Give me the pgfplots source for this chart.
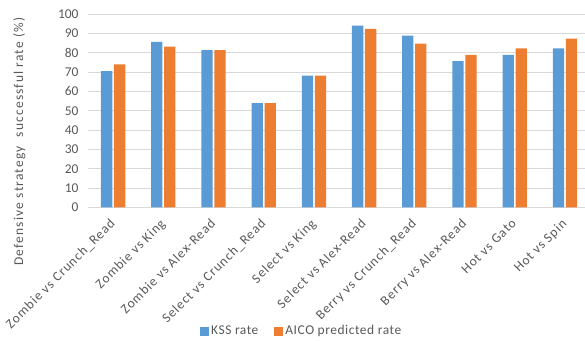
\documentclass[border=0pt]{standalone}
\usepackage{pgfplots}
\pgfplotsset{compat=1.18}
\usepackage{fontspec}
\setmainfont{Carlito}
\newfontfamily\ticklabelfont[LetterSpace=7]{Carlito}
\newfontfamily\ylabelfont[LetterSpace=9]{Carlito}
\newfontfamily\legendfont[LetterSpace=4]{Carlito}
\definecolor{kssblue}{HTML}{5B9BD5}
\definecolor{aicoorange}{HTML}{ED7D31}
\definecolor{gridgray}{HTML}{D9D9D9}
\definecolor{textgray}{HTML}{595959}

\begin{document}
\begin{tikzpicture}
\useasboundingbox (0,0) rectangle (585bp,341bp);
\begin{axis}[
  at={(88bp,133.7bp)}, anchor=south west,
  scale only axis,
  width=497bp, height=193bp,
  ybar=1.7bp, bar width=11.3bp,
  xmin=-0.5, xmax=9.4,
  ymin=0, ymax=100,
  ytick={0,10,...,100},
  xtick=data,
  xticklabels={Zombie vs Crunch\_Read, Zombie vs King, Zombie vs Alex-Read,
    Select vs Crunch\_Read, Select vs King, Select vs Alex-Read,
    Berry vs Crunch\_Read, Berry vs Alex-Read, Hot vs Gato, Hot vs Spin},
  x tick label style={xshift=-4bp, yshift=-9bp, rotate=45, anchor=north east,
    font=\ticklabelfont\fontsize{13.5}{15}\selectfont, text=textgray, inner sep=1bp},
  y tick label style={font=\fontsize{13.5}{15}\selectfont, text=textgray},
  /pgf/number format/assume math mode=true,
  major tick length=0pt,
  axis line style={draw=none},
  ymajorgrids, grid style={gridgray, line width=0.9bp},
  yticklabel style={xshift=-6bp},
  ylabel={Defensive strategy\ \ successful rate (\%)},
  ylabel style={at={(axis description cs:-0.138,0.341)}, anchor=center, font=\ylabelfont\fontsize{13.5}{15}\selectfont, text=textgray},
  legend columns=2,
  legend style={at={(axis description cs:0.43,-0.641)}, anchor=center, draw=none, fill=none,
    font=\legendfont\fontsize{13.5}{15}\selectfont, text=textgray,
    /tikz/every even column/.append style={column sep=14bp}},
  legend image code/.code={\fill[#1] (0bp,-4.5bp) rectangle (9bp,4.5bp);},
]
\addplot[fill=kssblue, draw=none] coordinates {
  (0,70.6) (1,85.7) (2,81.5) (3,54.0) (4,68.2)
  (5,94.1) (6,89.0) (7,75.7) (8,79.0) (9,82.3)};
\addplot[fill=aicoorange, draw=none] coordinates {
  (0,74.0) (1,83.2) (2,81.5) (3,54.0) (4,68.2)
  (5,92.4) (6,84.8) (7,79.0) (8,82.4) (9,87.4)};
\legend{KSS rate, AICO predicted rate}
\end{axis}
\end{tikzpicture}
\end{document}
